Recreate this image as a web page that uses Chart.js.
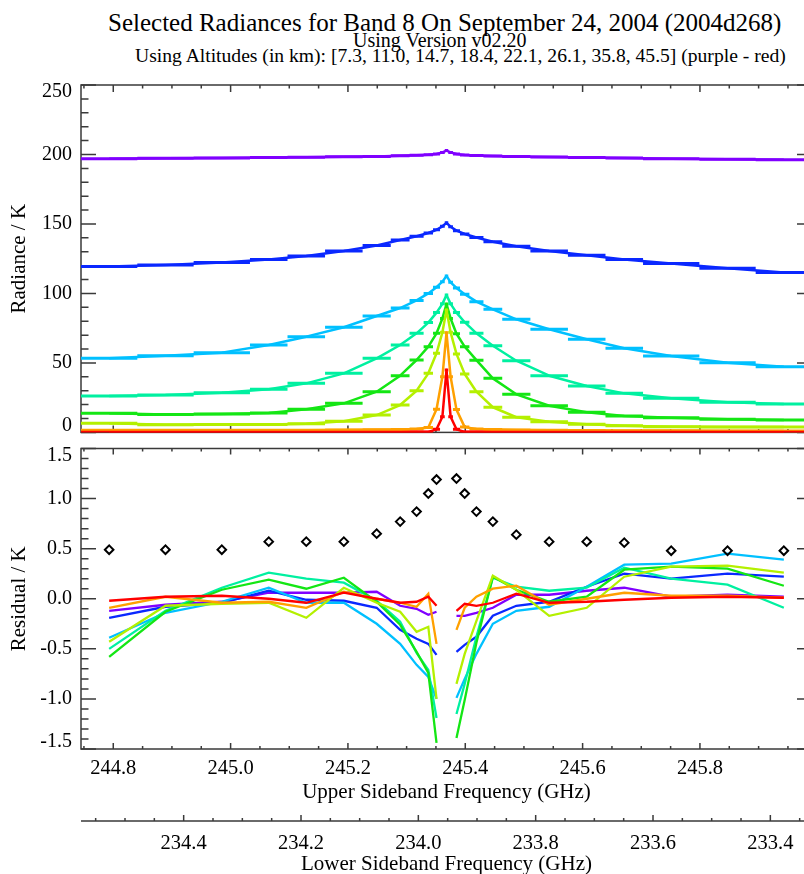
<!DOCTYPE html>
<html>
<head>
<meta charset="utf-8">
<script src="https://cdn.jsdelivr.net/npm/chart.js@4.4.1/dist/chart.umd.min.js"></script>
<style>
  html, body { margin: 0; padding: 0; background: #fff; overflow: hidden; }
  #page { position: relative; width: 804px; height: 874px; overflow: hidden;
          font-family: 'Liberation Serif', 'Times New Roman', serif; color: #000; }
  .ttl { position: absolute; white-space: nowrap; line-height: 1; }
  canvas { position: absolute; left: 0; }
</style>
</head>
<body>
<div id="page">
  <div class="ttl" style="left:108px; top:10px; font-size:25px">Selected Radiances for Band 8 On September 24, 2004 (2004d268)</div>
  <div class="ttl" style="left:353px; top:30px; font-size:20px">Using Version v02.20</div>
  <div class="ttl" style="left:135px; top:46px; font-size:19.6px">Using Altitudes (in km): [7.3, 11.0, 14.7, 18.4, 22.1, 26.1, 35.8, 45.5] (purple - red)</div>
  <canvas id="radChart" width="820" height="440" style="top:0; width:820px; height:440px"></canvas>
  <canvas id="resChart" width="820" height="437" style="top:440px; width:820px; height:437px"></canvas>
</div>
<script>
// --- DONNÉES ---
const CENTRE_USB = 245.368;   // GHz, centre de la bande (USB)
const SOMME_LO = 479.32;      // USB + LSB = 2 x LO

// Canaux du spectromètre : décalage au centre et largeur (MHz)
const OFFSETS_MHZ = [-575, -479, -383, -303, -239, -175, -119, -79, -51, -31, -17, -7, 0,
                     7, 17, 31, 51, 79, 119, 175, 239, 303, 383, 479, 575];
const LARGEURS_MHZ = [96, 96, 96, 64, 64, 64, 48, 32, 24, 16, 12, 8, 6,
                      8, 12, 16, 24, 32, 48, 64, 64, 64, 96, 96, 96];

const ALTITUDES = [7.3, 11.0, 14.7, 18.4, 22.1, 26.1, 35.8, 45.5];
const COULEURS = ['#8000ff', '#0a28ff', '#00c0ff', '#00f0a0', '#14e614', '#b4f000', '#ffa000', '#ff0000'];

// Radiances (K)
const rad7_3  = [197.0, 197.2, 197.5, 197.8, 198.0, 198.3, 198.6, 199.0, 199.4, 199.8, 200.4, 201.5, 202.8,
                 201.5, 200.3, 199.7, 199.3, 198.9, 198.6, 198.2, 197.8, 197.4, 197.0, 196.6, 196.2];
const rad11_0 = [119.3, 120.5, 122.3, 124.5, 127.0, 130.5, 134.5, 138.5, 141.2, 143.5, 145.8, 148.3, 150.8,
                 148.0, 145.2, 142.8, 140.3, 137.2, 134.0, 130.5, 127.5, 124.5, 121.5, 118.2, 115.0];
const rad14_7 = [53.3, 55.2, 57.4, 62.9, 68.9, 75.7, 83.8, 89.5, 95.0, 100.0, 104.5, 108.5, 112.6,
                 108.0, 104.0, 99.5, 94.1, 88.6, 81.4, 74.2, 67.0, 60.5, 55.0, 50.2, 47.3];
const rad18_4 = [26.2, 26.9, 28.6, 31.0, 35.3, 42.5, 53.3, 62.9, 71.3, 79.0, 86.2, 92.5, 98.9,
                 92.5, 86.2, 79.3, 71.3, 62.4, 51.6, 40.8, 33.4, 28.1, 24.5, 21.7, 20.4];
const rad22_1 = [13.7, 12.9, 13.2, 14.0, 16.6, 20.9, 29.3, 40.8, 52.1, 61.7, 71.3, 82.0, 92.4,
                 82.0, 71.0, 61.7, 52.0, 38.9, 27.4, 19.2, 14.5, 11.8, 10.6, 9.4, 8.9];
const rad26_1 = [6.5, 5.5, 5.6, 5.6, 6.2, 8.0, 12.5, 19.7, 30.0, 42.5, 56.9, 72.0, 88.1,
                 72.0, 56.5, 42.0, 29.3, 18.1, 10.9, 7.7, 5.8, 4.8, 4.1, 3.9, 3.9];
const rad35_8 = [1.6, 1.5, 1.5, 1.5, 1.6, 1.7, 1.9, 2.0, 2.4, 3.6, 16.6, 40.0, 71.8,
                 40.0, 16.4, 3.8, 2.4, 2.0, 1.7, 1.5, 1.3, 1.2, 1.1, 1.0, 1.0];
const rad45_5 = [0.1, 0.1, 0.1, 0.1, 0.1, 0.1, 0.1, 0.1, 0.2, 0.3, 2.2, 11.3, 44.9,
                 11.3, 2.2, 0.3, 0.2, 0.1, 0.1, 0.1, 0.1, 0.1, 0.1, 0.1, 0.1];

// Résidus (K) - les trois canaux centraux ne sont pas tracés
const res7_3  = [-0.12, -0.06, -0.03, 0.06, 0.06, 0.06, 0.07, -0.07, -0.10, -0.16, -0.13, null, null, null,
                 -0.17, -0.17, -0.14, -0.09, 0.04, 0.04, 0.08, 0.11, 0.02, 0.04, 0.02];
const res11_0 = [-0.19, -0.08, -0.04, 0.08, -0.01, -0.02, -0.09, -0.31, -0.40, -0.45, -0.56, null, null, null,
                 -0.53, -0.46, -0.38, -0.17, -0.07, -0.03, 0.12, 0.25, 0.20, 0.25, 0.22];
const res14_7 = [-0.39, -0.14, -0.03, 0.11, -0.04, -0.04, -0.25, -0.45, -0.66, -0.78, -1.00, null, null, null,
                 -0.99, -0.80, -0.55, -0.25, -0.12, -0.08, 0.12, 0.34, 0.35, 0.45, 0.39];
const res18_4 = [-0.50, -0.12, 0.11, 0.26, 0.20, 0.16, -0.02, -0.23, -0.54, -0.71, -1.19, null, null, null,
                 -1.15, -0.85, -0.38, 0.21, 0.12, 0.08, 0.11, 0.31, 0.20, 0.14, -0.09];
const res22_1 = [-0.58, -0.13, 0.09, 0.19, 0.10, 0.21, -0.03, -0.26, -0.53, -0.74, -1.44, null, null, null,
                 -1.39, -1.01, -0.44, 0.22, 0.09, -0.03, 0.02, 0.29, 0.32, 0.30, 0.13];
const res26_1 = [-0.43, -0.07, -0.05, -0.04, -0.19, 0.11, -0.04, -0.13, -0.33, -0.28, -1.00, null, null, null,
                 -0.85, -0.55, -0.22, 0.23, 0.09, -0.17, -0.09, 0.22, 0.32, 0.33, 0.26];
const res35_8 = [-0.09, 0.02, -0.04, -0.03, -0.09, 0.07, 0.00, -0.04, -0.08, 0.05, -0.45, null, null, null,
                 -0.31, -0.09, 0.02, 0.10, 0.13, -0.06, 0.00, 0.06, 0.03, 0.03, 0.01];
const res45_5 = [-0.02, 0.02, 0.03, 0.00, -0.04, 0.06, 0.00, -0.04, -0.03, 0.02, -0.07, null, null, null,
                 -0.12, -0.05, -0.07, -0.04, 0.05, -0.04, -0.03, -0.01, 0.01, 0.02, 0.01];

// Bruit attendu (losanges)
const bruit = [0.49, 0.49, 0.49, 0.57, 0.57, 0.57, 0.65, 0.77, 0.87, 1.05, 1.19, null, null, null,
               1.20, 1.05, 0.87, 0.77, 0.64, 0.57, 0.57, 0.56, 0.48, 0.48, 0.48];

// Graduations
const USB_TICKS = [244.8, 245.0, 245.2, 245.4, 245.6, 245.8];
const LSB_TICKS = [234.4, 234.2, 234.0, 233.8, 233.6, 233.4];
const RAD_TICKS = [0, 50, 100, 150, 200, 250];
const RES_TICKS = [-1.5, -1.0, -0.5, 0.0, 0.5, 1.0, 1.5];

const RADIANCES = [rad7_3, rad11_0, rad14_7, rad18_4, rad22_1, rad26_1, rad35_8, rad45_5];
const RESIDUS = [res7_3, res11_0, res14_7, res18_4, res22_1, res26_1, res35_8, res45_5];

// --- CONSTRUCTION ---
const freq = OFFSETS_MHZ.map(o => CENTRE_USB + o / 1000);
const demiLarg = LARGEURS_MHZ.map(w => w / 2000);
const X_MIN = freq[0] - demiLarg[0];
const X_MAX = freq[freq.length - 1] + demiLarg[demiLarg.length - 1];

const POLICE = 'Liberation Serif';
Chart.defaults.font.family = POLICE;
Chart.defaults.color = '#000';

function pts(values) {
    return freq.map((f, i) => ({ x: f, y: values[i] }));
}

// Barres horizontales = largeur de chaque canal
function barres(values) {
    const out = [];
    freq.forEach((f, i) => {
        out.push({ x: f - demiLarg[i], y: values[i] });
        out.push({ x: f + demiLarg[i], y: values[i] });
        out.push({ x: f + demiLarg[i], y: null });
    });
    return out;
}

// Cadre et graduations vers l'intérieur (style IDL)
const cadrePlugin = {
    id: 'cadre',
    beforeDatasetsDraw(chart, args, opts) {
        const { ctx, chartArea: a, scales } = chart;
        const x = scales.x, y = scales.y;
        ctx.save();
        ctx.strokeStyle = '#3a3a3a';
        ctx.lineWidth = 1.5;
        ctx.strokeRect(a.left, a.top, a.right - a.left, a.bottom - a.top);
        ctx.beginPath();
        for (let k = Math.ceil(x.min / 0.05 - 1e-6); k * 0.05 <= x.max + 1e-9; k++) {
            const px = x.getPixelForValue(k * 0.05);
            const len = k % 4 === 0 ? opts.xTick : opts.xTick / 2;
            ctx.moveTo(px, a.top); ctx.lineTo(px, a.top + len);
            ctx.moveTo(px, a.bottom); ctx.lineTo(px, a.bottom - len);
        }
        for (let k = Math.ceil(y.min / opts.yStep - 1e-6); k * opts.yStep <= y.max + 1e-9; k++) {
            const py = y.getPixelForValue(k * opts.yStep);
            const len = k % opts.yEvery === 0 ? 15 : 7.5;
            ctx.moveTo(a.left, py); ctx.lineTo(a.left + len, py);
            ctx.moveTo(a.right, py); ctx.lineTo(a.right - len, py);
        }
        if (scales.xl) {
            const l = scales.xl;
            const yl = l.top;
            ctx.moveTo(a.left, yl); ctx.lineTo(a.right, yl);
            for (let k = Math.ceil(l.min / 0.05 - 1e-6); k * 0.05 <= l.max + 1e-9; k++) {
                const px = l.getPixelForValue(k * 0.05);
                const len = k % 4 === 0 ? 6 : 3;
                ctx.moveTo(px, yl); ctx.lineTo(px, yl - len);
            }
        }
        ctx.stroke();
        ctx.restore();
    }
};

const sansGrille = { display: false, drawTicks: false };
const sansBord = { display: false };
const policeTicksY = { family: POLICE, size: 20, lineHeight: 0.7 };
const policeTicksX = { family: POLICE, size: 20.5, lineHeight: 1.2 };
const policeTitre = { family: POLICE, size: 21 };

// pas de marge réservée pour les libellés qui débordent
function fixeLargeur(w) {
    return s => { s.width = w; s.paddingTop = 0; s.paddingBottom = 0; };
}
function fixeHauteur(h) {
    return s => { s.height = h; s.paddingLeft = 0; s.paddingRight = 0; };
}

function dessiner() {
    // --- PANNEAU DU HAUT : RADIANCES ---
    const radSets = [];
    RADIANCES.forEach((r, i) => {
        radSets.push({
            data: pts(r), borderColor: COULEURS[i], borderWidth: 2.5, pointRadius: 0,
            borderJoinStyle: 'round', order: 20 - 2 * i
        });
        radSets.push({
            data: barres(r), borderColor: COULEURS[i], borderWidth: 3, pointRadius: 0,
            spanGaps: false, order: 19 - 2 * i
        });
    });

    new Chart(document.getElementById('radChart'), {
        type: 'line',
        data: { datasets: radSets },
        options: {
            responsive: false,
            animation: false,
            devicePixelRatio: 1,
            layout: { padding: { top: 85, right: 8, bottom: 7.6, left: 0 } },
            plugins: { legend: { display: false }, tooltip: { enabled: false }, cadre: { xTick: 7, yStep: 10, yEvery: 5 } },
            scales: {
                x: {
                    type: 'linear', min: X_MIN, max: X_MAX,
                    grid: sansGrille, border: sansBord, ticks: { display: false },
                    afterFit: fixeHauteur(0)
                },
                y: {
                    type: 'linear', min: 0, max: 250,
                    grid: sansGrille, border: sansBord,
                    afterBuildTicks: s => { s.ticks = RAD_TICKS.map(v => ({ value: v })); },
                    ticks: {
                        font: policeTicksY, padding: 9, autoSkip: false,
                        callback: v => v === 250 ? ['', '250'] : (v === 0 ? ['0', ''] : String(v))
                    },
                    title: { display: true, text: 'Radiance / K', font: policeTitre, padding: { top: 7, bottom: 0 } },
                    afterFit: fixeLargeur(81)
                }
            }
        },
        plugins: [cadrePlugin]
    });

    // --- PANNEAU DU BAS : RÉSIDUS ---
    const resSets = RESIDUS.map((r, i) => ({
        data: pts(r), borderColor: COULEURS[i], borderWidth: 2.3, pointRadius: 0,
        spanGaps: false, order: 10 - i
    }));
    resSets.push({
        data: pts(bruit), showLine: false, pointStyle: 'rectRot', pointRadius: 4.3,
        pointBorderWidth: 2, pointBorderColor: '#000', pointBackgroundColor: 'rgba(0,0,0,0)', order: 0
    });

    new Chart(document.getElementById('resChart'), {
        type: 'line',
        data: { datasets: resSets },
        options: {
            responsive: false,
            animation: false,
            devicePixelRatio: 1,
            layout: { padding: { top: 8.5, right: 8, bottom: 0, left: 0 } },
            plugins: { legend: { display: false }, tooltip: { enabled: false }, cadre: { xTick: 6, yStep: 0.1, yEvery: 5 } },
            scales: {
                x: {
                    type: 'linear', position: 'bottom', weight: 0, min: X_MIN, max: X_MAX,
                    grid: sansGrille, border: sansBord,
                    afterBuildTicks: s => { s.ticks = USB_TICKS.map(v => ({ value: v })); },
                    ticks: { font: policeTicksX, padding: 7, autoSkip: false, maxRotation: 0, callback: v => v.toFixed(1) },
                    title: { display: true, text: 'Upper Sideband Frequency (GHz)', font: policeTitre, padding: { top: 0, bottom: 16 } },
                    afterFit: fixeHauteur(72)
                },
                xl: {
                    type: 'linear', position: 'bottom', weight: 1, reverse: true,
                    min: SOMME_LO - X_MAX, max: SOMME_LO - X_MIN,
                    grid: sansGrille, border: sansBord,
                    afterBuildTicks: s => { s.ticks = LSB_TICKS.map(v => ({ value: v })); },
                    ticks: { font: policeTicksX, padding: 10, autoSkip: false, maxRotation: 0, callback: v => v.toFixed(1) },
                    title: { display: true, text: 'Lower Sideband Frequency (GHz)', font: policeTitre, padding: { top: 0, bottom: 0 } },
                    afterFit: fixeHauteur(56)
                },
                y: {
                    type: 'linear', min: -1.5, max: 1.5,
                    grid: sansGrille, border: sansBord,
                    afterBuildTicks: s => { s.ticks = RES_TICKS.map(v => ({ value: v })); },
                    ticks: {
                        font: policeTicksY, padding: 9, autoSkip: false,
                        callback: v => v === 1.5 ? ['', '1.5'] : (v === -1.5 ? ['-1.5', ''] : v.toFixed(1))
                    },
                    title: { display: true, text: 'Residual / K', font: policeTitre, padding: { top: 7, bottom: 0 } },
                    afterFit: fixeLargeur(81)
                }
            }
        },
        plugins: [cadrePlugin]
    });
}

// --- DÉMARRAGE ---
// on attend la police pour que le canvas l'utilise
document.fonts.load("20px 'Liberation Serif'").then(dessiner, dessiner);
</script>
</body>
</html>
